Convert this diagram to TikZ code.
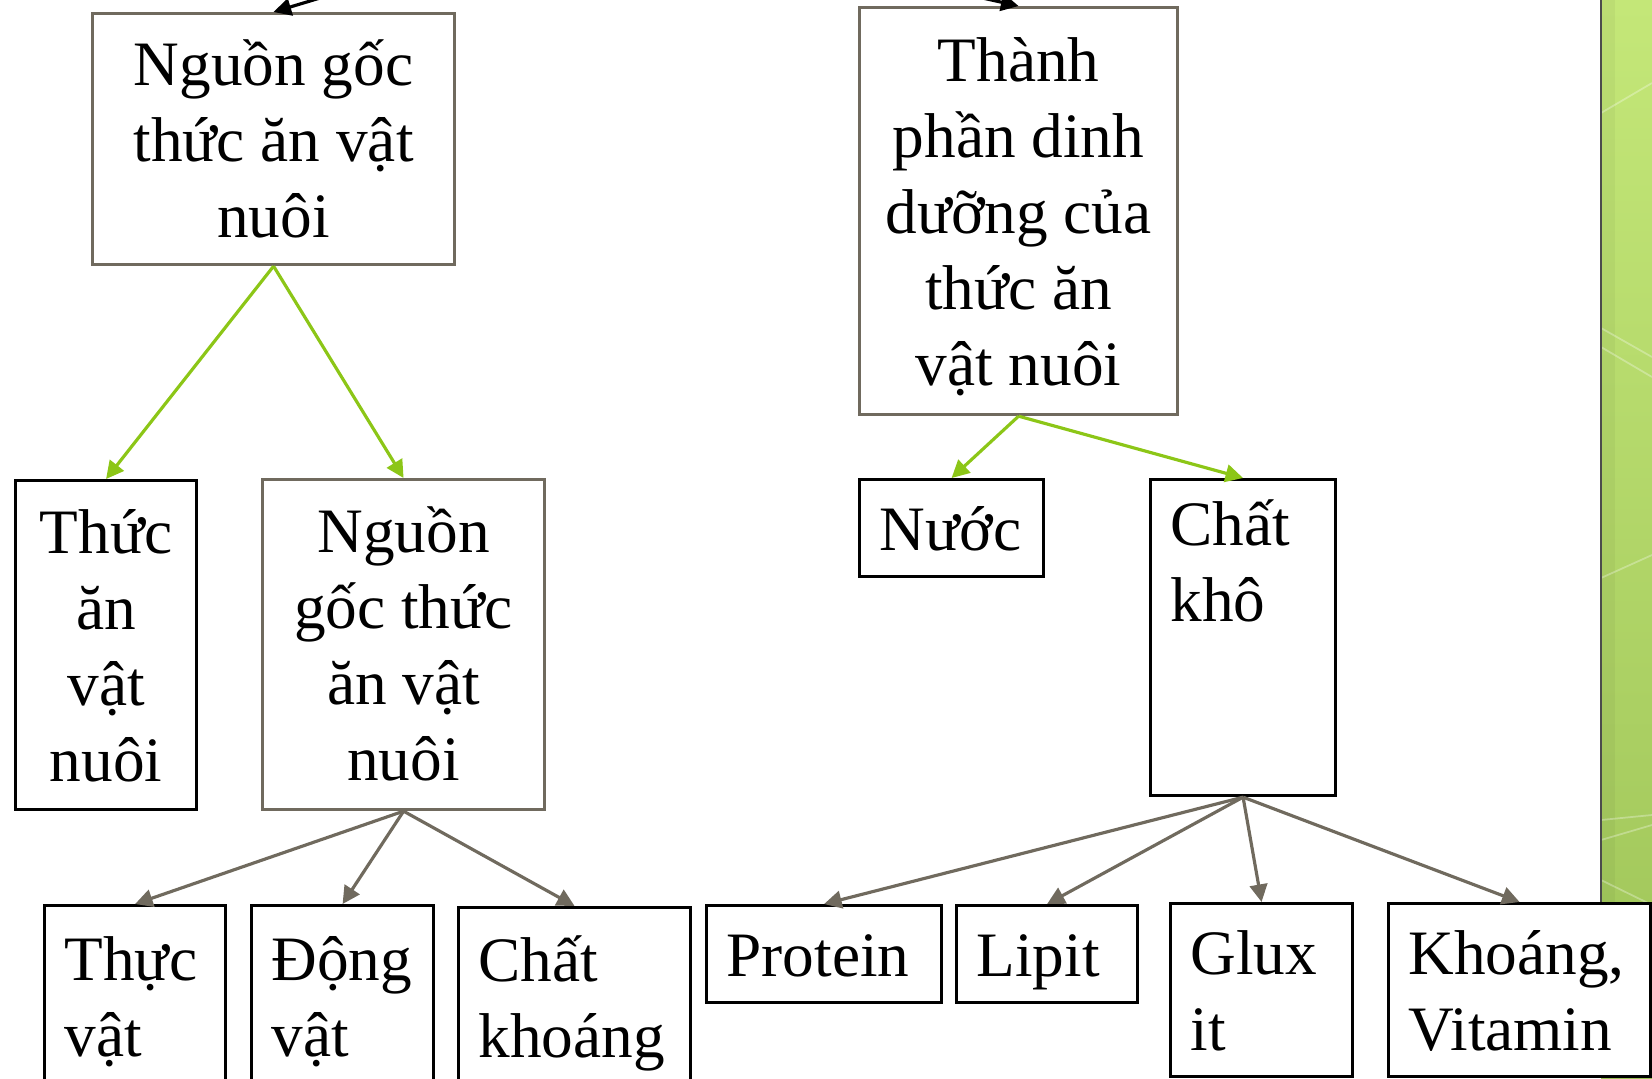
\documentclass[tikz,border=0pt]{standalone}
\usepackage{fontspec}
\setmainfont{Liberation Serif}
\usetikzlibrary{arrows.meta}
\definecolor{leaf}{RGB}{140,198,23}
\definecolor{stone}{RGB}{112,106,94}
\definecolor{bartop}{RGB}{196,231,120}
\definecolor{barbot}{RGB}{158,196,88}
\newcommand{\bstrut}{\rule[-4.5pt]{0pt}{21.6pt}}

\begin{document}
\begin{tikzpicture}[x=0.1mm,y=-0.1mm,
    box/.style={draw, fill=white, line width=0.9pt, anchor=north west, inner xsep=2mm,
      inner ysep=0pt, align=flush left, font=\fontsize{18}{21.6}\selectfont,
      execute at begin node=\bstrut, execute at end node=\bstrut},
    gbox/.style={box, draw=stone, align=flush center},
    arr/.style={-{Triangle[length=5pt,width=5pt]}, line width=0.9pt}]
      \clip (0,0) rectangle (1652,1078);
      \shade[top color=bartop, bottom color=barbot] (1601,0) rectangle (1652,1078);
      \fill[black, opacity=0.04] (1601,0) rectangle (1615,1078);
      \draw[white, opacity=0.3, line width=0.5pt] (1601,113) -- (1652,83)
        (1601,328) -- (1652,357) (1601,347) -- (1652,377) (1601,578) -- (1652,555)
        (1601,820) -- (1652,815) (1601,840) -- (1652,825) (1601,880) -- (1652,905);
      \draw[black!70, line width=0.5pt] (1601,0) -- (1601,1078);

      \node[gbox, text width=32.2mm, minimum height=25.1mm] (1) at (91,12) {Nguồn gốc\\thức ăn vật\\nuôi};
      \node[gbox, text width=27.8mm, minimum height=40.7mm] (2) at (858,6) {Thành\\phần dinh\\dưỡng của\\thức ăn\\vật nuôi};
      \node[box, align=flush center, text width=14.1mm, minimum height=32.9mm] (3) at (14,479) {Thức\\ăn\\vật\\nuôi};
      \node[gbox, text width=24.2mm, minimum height=33mm] (4) at (261,478) {Nguồn\\gốc thức\\ăn vật\\nuôi};
      \node[box, text width=14.4mm, minimum height=9.7mm] (5) at (858,478) {Nước};
      \node[box, text width=14.5mm, minimum height=31.6mm] (6) at (1149,478) {Chất\\khô\\~\\~};
      \node[box, text width=14.1mm, minimum height=18.1mm] (7) at (43,904) {Thực\\vật};
      \node[box, text width=14.2mm, minimum height=18.1mm] (8) at (250,904) {Động\\vật};
      \node[box, text width=19.2mm, minimum height=17.9mm] (9) at (457,906) {Chất\\khoáng};
      \node[box, text width=19.5mm, minimum height=9.7mm] (10) at (705,904) {Protein};
      \node[box, text width=14.1mm, minimum height=9.7mm] (11) at (955,904) {Lipit};
      \node[box, text width=14.2mm, minimum height=17.3mm] (12) at (1169,902) {Glux\\it};
      \node[box, text width=22.2mm, minimum height=17.3mm] (13) at (1387,902) {Khoáng,\\Vitamin};

      \coordinate (t1) at (320,-2);
      \coordinate (t2) at (960,-7);
      \draw[arr] (t1) -- (1.north);
      \draw[arr] (t2) -- (2.north);

      \draw[arr, leaf] (1.south) -- (3.north);
      \draw[arr, leaf] (1.south) -- (4.north);
      \draw[arr, leaf] (2.south) -- (5.north);
      \draw[arr, leaf] (2.south) -- (6.north);

      \draw[arr, stone] (4.south) -- (7.north);
      \draw[arr, stone] (4.south) -- (8.north);
      \draw[arr, stone] (4.south) -- (9.north);
      \draw[arr, stone] (6.south) -- (10.north);
      \draw[arr, stone] (6.south) -- (11.north);
      \draw[arr, stone] (6.south) -- (12.north);
      \draw[arr, stone] (6.south) -- (13.north);
    \end{tikzpicture}
\end{document}
